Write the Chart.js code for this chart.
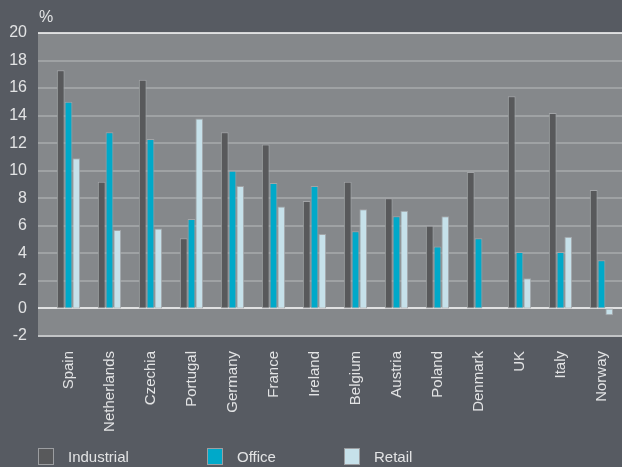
<!DOCTYPE html>
<html>
<head>
<meta charset="utf-8">
<script src="https://cdn.jsdelivr.net/npm/chart.js@4/dist/chart.umd.min.js"></script>
<style>
  html, body { margin: 0; padding: 0; background: #575b62; }
  #wrap { width: 622px; height: 467px; position: relative; }
</style>
</head>
<body>
<div id="wrap"><canvas id="chart1"></canvas></div>
<script>
const countries = ['Spain', 'Netherlands', 'Czechia', 'Portugal', 'Germany', 'France', 'Ireland',
    'Belgium', 'Austria', 'Poland', 'Denmark', 'UK', 'Italy', 'Norway'];
const industrial = [17.3, 9.2, 16.6, 5.1, 12.8, 11.9, 7.8, 9.2, 8.0, 6.0, 9.9, 15.4, 14.2, 8.6];
const office = [15.0, 12.8, 12.3, 6.5, 10.0, 9.1, 8.9, 5.6, 6.7, 4.5, 5.1, 4.1, 4.1, 3.5];
const retail = [10.9, 5.7, 5.8, 13.8, 8.9, 7.4, 5.4, 7.2, 7.1, 6.7, null, 2.2, 5.2, -0.5];
const yTicks = [-2, 0, 2, 4, 6, 8, 10, 12, 14, 16, 18, 20];

const FONT = "'Liberation Sans', Arial, sans-serif";
const TEXT = '#e2e3e4';

// plot background and horizontal lines, drawn a bit left of the chart area like the original
const plotBackground = {
    id: 'plotBackground',
    beforeDraw(chart) {
        const ctx = chart.ctx;
        const area = chart.chartArea;
        const y = chart.scales.y;
        const left = area.left - 10;
        ctx.save();
        ctx.fillStyle = '#85888b';
        ctx.fillRect(left, area.top, chart.width - left, area.bottom - area.top);
        yTicks.forEach(function (v) {
            const py = Math.round(y.getPixelForValue(v));
            if (v === 0 || v === 20) {
                ctx.strokeStyle = '#ffffff';
                ctx.lineWidth = 1.5;
            } else if (v === -2) {
                ctx.strokeStyle = '#c2c4c6';
                ctx.lineWidth = 2;
            } else {
                ctx.strokeStyle = '#a9abad';
                ctx.lineWidth = 1.5;
            }
            ctx.beginPath();
            ctx.moveTo(left, py);
            ctx.lineTo(chart.width, py);
            ctx.stroke();
        });
        ctx.restore();
    },
    afterDraw(chart) {
        const ctx = chart.ctx;
        ctx.save();
        ctx.fillStyle = TEXT;
        ctx.font = '16px ' + FONT;
        ctx.textBaseline = 'alphabetic';
        ctx.fillText('%', 39, 22);

        // legend
        const xs = [38, 207, 344];
        ctx.font = '15px ' + FONT;
        ctx.textBaseline = 'middle';
        chart.data.datasets.forEach(function (ds, i) {
            ctx.fillStyle = ds.backgroundColor;
            ctx.fillRect(xs[i], 448, 15, 16);
            ctx.strokeStyle = '#9c9ea1';
            ctx.lineWidth = 1;
            ctx.strokeRect(xs[i] + 0.5, 448.5, 15, 16);
            ctx.fillStyle = TEXT;
            ctx.fillText(ds.label, xs[i] + 30, 458);
        });
        ctx.restore();
    }
};

const data = {
    labels: countries,
    datasets: [
        { label: 'Industrial', data: industrial, backgroundColor: '#58595b' },
        { label: 'Office', data: office, backgroundColor: '#00a9c9' },
        { label: 'Retail', data: retail, backgroundColor: '#c6e1ea' }
    ]
};

const config = {
    type: 'bar',
    data: data,
    options: {
        responsive: true,
        maintainAspectRatio: false,
        animation: false,
        layout: { padding: { top: 33, right: 0, bottom: 0, left: 0 } },
        datasets: {
            bar: {
                borderColor: '#a2a4a7',
                borderWidth: 1,
                borderSkipped: false,
                categoryPercentage: 0.57,
                barPercentage: 1.0
            }
        },
        plugins: {
            legend: { display: false },
            tooltip: { enabled: false }
        },
        scales: {
            x: {
                grid: { display: false, drawTicks: false },
                border: { display: false },
                ticks: {
                    color: TEXT,
                    font: { family: FONT, size: 15 },
                    minRotation: 90,
                    maxRotation: 90,
                    autoSkip: false,
                    padding: 15
                },
                afterFit: function (scale) {
                    scale.height = 131;
                    scale.paddingLeft = 0;
                    scale.paddingRight = 0;
                }
            },
            y: {
                min: -2,
                max: 20,
                grid: { display: false, drawTicks: false },
                border: { display: false },
                ticks: {
                    stepSize: 2,
                    color: TEXT,
                    font: { family: FONT, size: 16 },
                    padding: 21
                },
                afterFit: function (scale) { scale.width = 48; }
            }
        }
    },
    plugins: [plotBackground]
};

const chart = new Chart(document.getElementById('chart1'), config);
</script>
</body>
</html>
